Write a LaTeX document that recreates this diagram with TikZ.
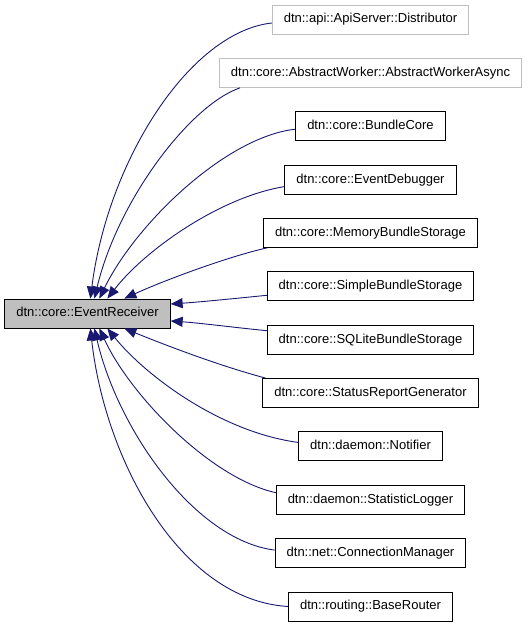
\documentclass[tikz,border=0pt]{standalone}
\usepackage{fontspec}
\setmainfont{Liberation Sans}
\usetikzlibrary{arrows.meta,calc}
\definecolor{edgeblue}{HTML}{191970}
\definecolor{boxgray}{HTML}{BFBFBF}
\tikzset{
  cls/.style={draw=black, line width=0.9pt, fill=white, minimum height=29pt, inner xsep=11.5pt, inner ysep=0pt,
    font=\fontsize{13}{15}\selectfont, text height=9.5pt, text depth=2.7pt},
  clsgray/.style={cls, draw=boxgray},
  mainbox/.style={cls, fill=boxgray},
  edge/.style={draw=edgeblue, line width=0.9pt, -{Triangle[length=12pt,width=10pt]}}
}
\begin{document}
\begin{tikzpicture}[x=1pt,y=-1pt]
\useasboundingbox (0,0) rectangle (528,627);
\node[mainbox] (main) at (87.5,313.5) {dtn::core::EventReceiver};
\node[clsgray] (d1) at (370.5,19.5) {dtn::api::ApiServer::Distributor};
\node[clsgray] (d2) at (370.5,72.9) {dtn::core::AbstractWorker::AbstractWorkerAsync};
\node[cls] (d3) at (370.5,126.2) {dtn::core::BundleCore};
\node[cls] (d4) at (370.5,179.6) {dtn::core::EventDebugger};
\node[cls] (d5) at (370.5,232.9) {dtn::core::MemoryBundleStorage};
\node[cls] (d6) at (370.5,286.3) {dtn::core::SimpleBundleStorage};
\node[cls] (d7) at (370.5,339.7) {dtn::core::SQLiteBundleStorage};
\node[cls] (d8) at (370.5,393.0) {dtn::core::StatusReportGenerator};
\node[cls] (d9) at (370.5,446.4) {dtn::daemon::Notifier};
\node[cls] (d10) at (370.5,499.7) {dtn::daemon::StatisticLogger};
\node[cls] (d11) at (370.5,553.1) {dtn::net::ConnectionManager};
\node[cls] (d12) at (370.5,606.5) {dtn::routing::BaseRouter};

\draw[edge] ($(d1.west)+(0,3.5)$) .. controls (190,32) and (108,160) .. ($(main.north west)+(86,0)$);
\draw[edge] ($(d2.south west)+(21,0)$) .. controls (190,105) and (118,200) .. ($(main.north west)+(90,0)$);
\draw[edge] ($(d3.west)+(0,3)$) .. controls (225,137) and (135,225) .. ($(main.north west)+(95,0)$);
\draw[edge] ($(d4.west)+(0,7)$) .. controls (220,197) and (145,250) .. ($(main.north west)+(103,0)$);
\draw[edge] ($(d5.south west)+(4,0)$) .. controls (230,256) and (165,280) .. ($(main.north west)+(120,0)$);
\draw[edge] ($(d6.west)+(0,9)$) .. controls (230,299) and (200,302) .. ($(main.east)+(0,-9.5)$);
\draw[edge] ($(d7.west)+(0,-9)$) .. controls (230,327) and (200,323) .. ($(main.east)+(0,7.5)$);
\draw[edge] ($(d8.north west)+(3,0)$) .. controls (220,366) and (165,345) .. ($(main.south west)+(120,0)$);
\draw[edge] ($(d9.west)+(0,-4)$) .. controls (220,432) and (145,375) .. ($(main.south west)+(103,0)$);
\draw[edge] ($(d10.west)+(0,-7)$) .. controls (210,478) and (130,395) .. ($(main.south west)+(95,0)$);
\draw[edge] ($(d11.west)+(0,-3)$) .. controls (195,540) and (118,430) .. ($(main.south west)+(90,0)$);
\draw[edge] ($(d12.west)$) .. controls (180,600) and (105,460) .. ($(main.south west)+(86,0)$);
\end{tikzpicture}
\end{document}
